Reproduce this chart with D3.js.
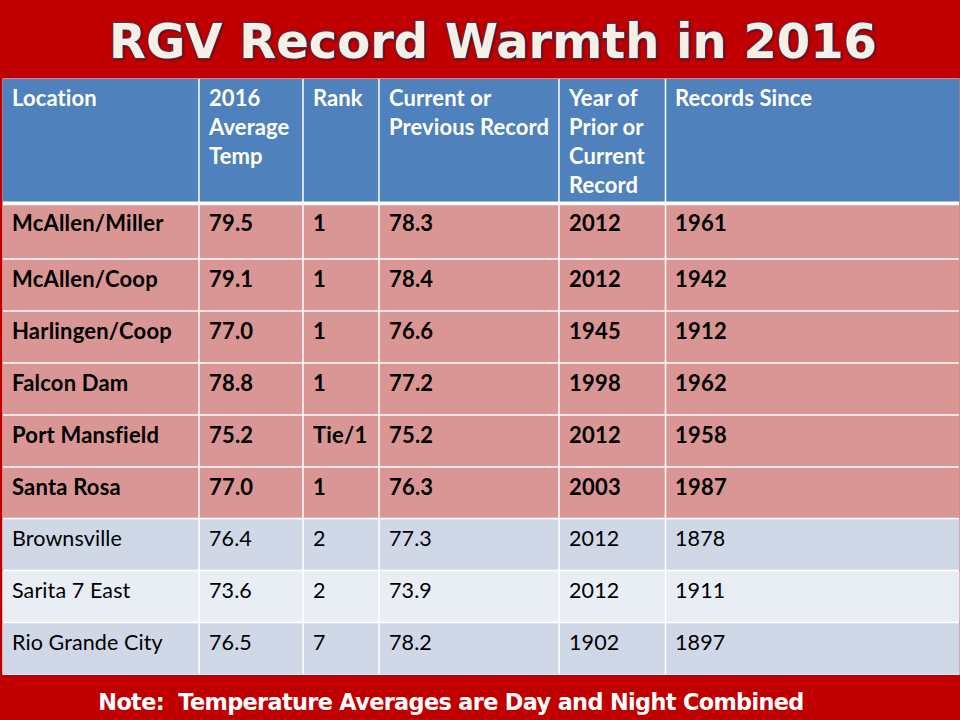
<!DOCTYPE html>
<html>
<head>
<meta charset="utf-8">
<script src="https://cdn.jsdelivr.net/npm/d3@7"></script>
<style>
  html, body { margin: 0; padding: 0; background: #c00000; }
  svg { display: block; }
</style>
</head>
<body>
<div id="chart"></div>
<script>
const titleText = "RGV Record Warmth in 2016";
const noteText = "Note:  Temperature Averages are Day and Night Combined";

const headers = [
  ["Location"],
  ["2016", "Average", "Temp"],
  ["Rank"],
  ["Current or", "Previous Record"],
  ["Year of", "Prior or", "Current", "Record"],
  ["Records Since"]
];

const locations = ["McAllen/Miller", "McAllen/Coop", "Harlingen/Coop", "Falcon Dam", "Port Mansfield", "Santa Rosa", "Brownsville", "Sarita 7 East", "Rio Grande City"];
const avgTemps = ["79.5", "79.1", "77.0", "78.8", "75.2", "77.0", "76.4", "73.6", "76.5"];
const ranks = ["1", "1", "1", "1", "Tie/1", "1", "2", "2", "7"];
const records = ["78.3", "78.4", "76.6", "77.2", "75.2", "76.3", "77.3", "73.9", "78.2"];
const recordYears = ["2012", "2012", "1945", "1998", "2012", "2003", "2012", "2012", "1902"];
const sinceYears = ["1961", "1942", "1912", "1962", "1958", "1987", "1878", "1911", "1897"];

const columns = [locations, avgTemps, ranks, records, recordYears, sinceYears];

const width = 960;
const height = 720;

// cell edges, measured off the slide
const colEdges = [2.5, 199, 303, 379, 559, 665.5, 959.5];
const rowEdges = [204.5, 259, 311, 363, 415, 467, 518.5, 570.5, 622.5, 675];
const headTop = 78.5, headBottom = 201.5;
const pad = 10;
const bodyFont = "Lato, Carlito, Calibri, sans-serif";

const svg = d3.select("#chart").append("svg")
  .attr("width", width)
  .attr("height", height)
  .attr("viewBox", [0, 0, width, height]);

const x = i => colEdges[i];
const y = i => rowEdges[i];
// first and last column text start a touch left of the others
const textX = i => x(i) + pad - (i === 0 || i === 5 ? 0.5 : 0);
// first row is taller but its text sits high in the cell
function baseline(r) {
  if (r === 0) return y(0) + 26.5;
  return y(r) + (r < 6 ? 28 : 27);
}

function rowFill(i) {
  if (i < 6) return "#d99694";
  return i === 7 ? "#e9edf4" : "#d0d8e8";
}

// slide background
svg.append("rect").attr("width", width).attr("height", height).attr("fill", "#c00000");

// title
svg.append("text")
  .attr("x", 493)
  .attr("y", 58)
  .attr("text-anchor", "middle")
  .attr("font-family", "'DejaVu Sans', Verdana, sans-serif")
  .attr("font-weight", 700)
  .attr("font-size", 48)
  .attr("fill", "#f5f0e3")
  .attr("stroke", "#1f4e8c")
  .attr("stroke-width", 1.5)
  .attr("paint-order", "stroke")
  .style("filter", "drop-shadow(1px 1px 1px rgba(60,0,0,.6))")
  .text(titleText);

// white table backing, the gaps between fills are the grid
svg.append("rect")
  .attr("x", x(0)).attr("y", headTop)
  .attr("width", x(6) - x(0)).attr("height", y(9) - headTop)
  .attr("fill", "#ffffff");

// header cells
svg.append("g").selectAll("rect")
  .data(headers)
  .join("rect")
  .attr("x", (d, i) => x(i) + (i ? 0.75 : 0))
  .attr("y", headTop + 0.5)
  .attr("width", (d, i) => x(i + 1) - x(i) - (i ? 0.75 : 0) - (i === 5 ? 0 : 0.75))
  .attr("height", headBottom - headTop - 0.5)
  .attr("fill", "#4f81bd");

// body cells
const rows = svg.append("g").selectAll("g")
  .data(locations)
  .join("g");

rows.selectAll("rect")
  .data((d, r) => columns.map((c, i) => ({ r, i })))
  .join("rect")
  .attr("x", d => x(d.i) + (d.i ? 0.75 : 0))
  .attr("y", d => y(d.r) + 0.75)
  .attr("width", d => x(d.i + 1) - x(d.i) - (d.i ? 0.75 : 0) - (d.i === 5 ? 0 : 0.75))
  .attr("height", d => y(d.r + 1) - y(d.r) - 1.5)
  .attr("fill", d => rowFill(d.r));

// header text
headers.forEach((lines, i) => {
  svg.append("g").selectAll("text")
    .data(lines)
    .join("text")
    .attr("x", textX(i))
    .attr("y", (d, k) => 106 + k * 29)
    .attr("font-family", bodyFont)
    .attr("font-weight", 700)
    .attr("font-size", 22)
    .attr("letter-spacing", 0.1)
    .attr("fill", "#ffffff")
    .text(d => d);
});

// body text, the six record-setting rows are bold
columns.forEach((col, i) => {
  svg.append("g").selectAll("text")
    .data(col)
    .join("text")
    .attr("x", textX(i))
    .attr("y", (d, r) => baseline(r))
    .attr("font-family", bodyFont)
    .attr("font-weight", (d, r) => r < 6 ? 700 : 400)
    .attr("font-size", (d, r) => r < 6 ? 22 : 21.5)
    .attr("letter-spacing", (d, r) => r < 6 ? 0.2 : 0.1)
    .attr("fill", "#000000")
    .text(d => d);
});

// footnote
svg.append("text")
  .attr("x", 451)
  .attr("y", 709.5)
  .attr("text-anchor", "middle")
  .attr("font-family", "'DejaVu Sans', Verdana, sans-serif")
  .attr("font-weight", 700)
  .attr("font-size", 22.4)
  .attr("letter-spacing", -0.65)
  .attr("fill", "#ffffff")
  .style("white-space", "pre")
  .text(noteText);
</script>
</body>
</html>
